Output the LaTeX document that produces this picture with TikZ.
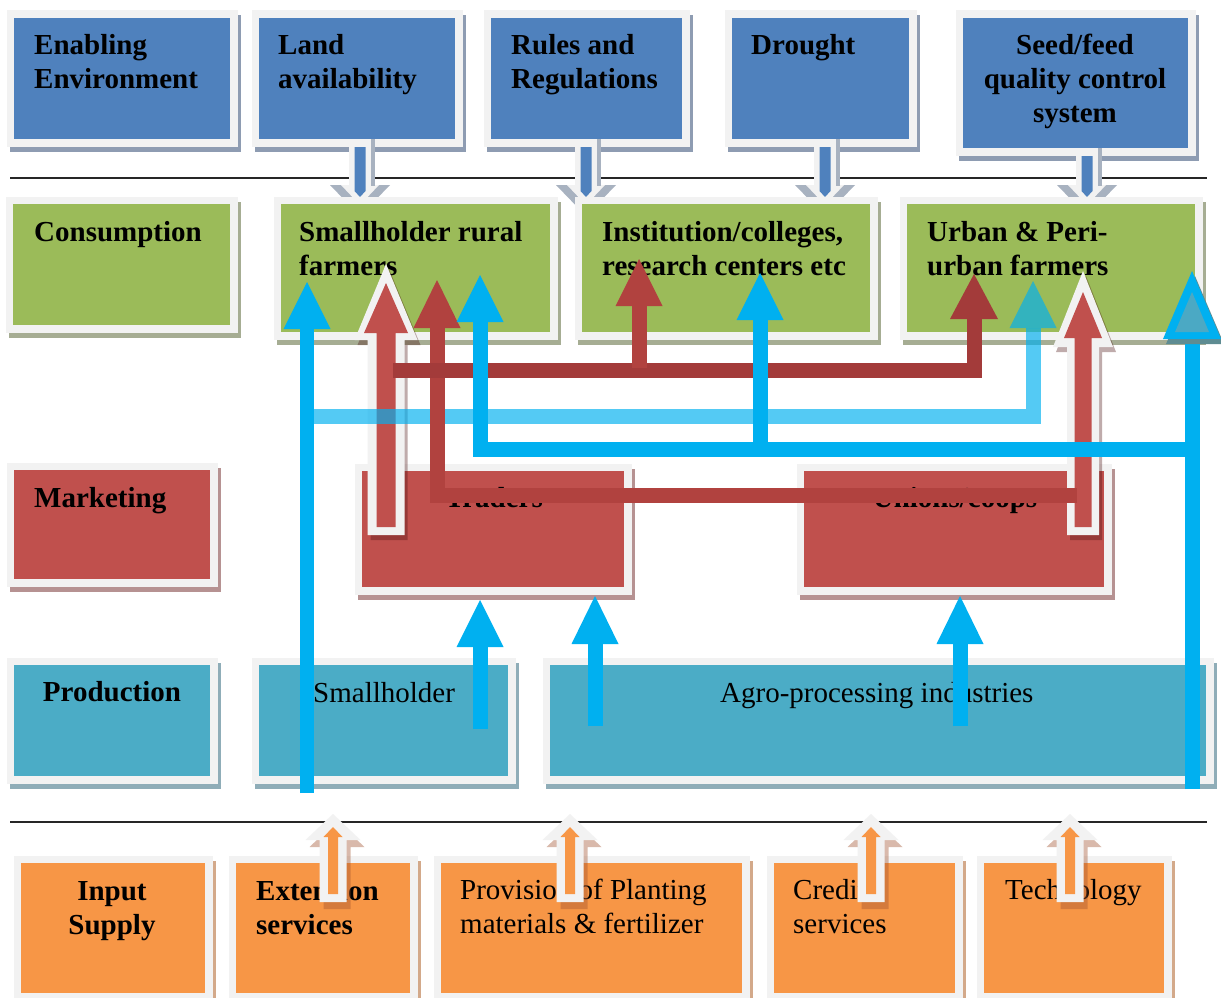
\documentclass[tikz,border=0pt]{standalone}
\usepackage{fontspec}
\setmainfont{Liberation Serif}
\definecolor{fr}{HTML}{F2F2F2}
\definecolor{bbox}{HTML}{4F81BD}
\definecolor{bsh}{HTML}{8E9CB2}
\definecolor{gbox}{HTML}{9BBB59}
\definecolor{gsh}{HTML}{A6AD93}
\definecolor{rbox}{HTML}{C0504D}
\definecolor{rsh}{HTML}{B69292}
\definecolor{tbox}{HTML}{4BACC6}
\definecolor{tsh}{HTML}{8FADB8}
\definecolor{obox}{HTML}{F79646}
\definecolor{osh}{HTML}{D3A98A}
\definecolor{cy}{HTML}{00B0F0}
\definecolor{dred}{HTML}{A33B3A}
\definecolor{mred}{HTML}{B1423F}
\definecolor{teal2}{HTML}{4BA9C4}
\definecolor{hsh}{HTML}{A8B2C0}
\definecolor{tealsh}{HTML}{5E8C92}
\definecolor{brsh}{HTML}{A0522D}
\definecolor{rdsh}{HTML}{4A1010}
% box with grey frame and offset shadow: name, x1, y1, x2, y2, fill, shadow
\newcommand{\cbox}[7]{%
  \fill[#7] ({#2-4.5},{#3-2.5}) rectangle ({#4+10.5},{#5+12.5});
  \node[draw=fr, line width=7.5pt, fill=#6, inner sep=0pt,
        minimum width={(#4-#2+7.5)*1pt}, minimum height={(#5-#3+7.5)*1pt}]
        (#1) at ({(#2+#4)/2},{(#3+#5)/2}) {};
}
% upward block arrow polygon: style, centre x, tip y, head-base y, head half width, shaft half width, bottom y
\newcommand{\blockup}[7]{%
  \fill[#1] ({#2-#6},#7) -- ({#2-#6},#4) -- ({#2-#5},#4) -- (#2,#3)
    -- ({#2+#5},#4) -- ({#2+#6},#4) -- ({#2+#6},#7) -- cycle;
}
% arrow head: style, x, tip y, base y, half width
\newcommand{\uphead}[5]{%
  \fill[#1] ({#2-#5},#4) -- (#2,#3) -- ({#2+#5},#4) -- cycle;
}
% grey framed downward arrow from the top row: x, top y
\newcommand{\downarr}[2]{%
  \fill[hsh] ({#1-30},185) -- ({#1+30},185) -- (#1,216) -- cycle;
  \fill[fr] ({#1-19},185) -- ({#1+19},185) -- (#1,205) -- cycle;
  \fill[hsh] ({#1+10},#2) rectangle ({#1+15},186);
  \fill[fr] ({#1-11},#2) rectangle ({#1+11},188);
  \fill[bbox] ({#1-5.5},{#2+8}) -- ({#1+5.5},{#2+8}) -- ({#1+5.5},191)
     -- (#1,197) -- ({#1-5.5},191) -- cycle;
}
% orange framed upward arrow: x
\newcommand{\orarr}[1]{%
  \blockup{brsh, opacity=0.4}{#1+4}{821}{847}{27.5}{13.5}{909}
  \blockup{fr}{#1}{814}{840}{27.5}{13.5}{902}
  \blockup{obox}{#1}{827}{837}{9.5}{5}{894}
}
\newcommand{\twol}[2]{\begin{tabular}[t]{@{}l@{}}#1\\#2\end{tabular}}
\newcommand{\twoc}[2]{\begin{tabular}[t]{@{}c@{}}#1\\#2\end{tabular}}
\begin{document}
\begin{tikzpicture}[x=1pt,y=-1pt,
  txt/.style={font=\fontsize{29}{34}\selectfont, inner sep=0pt, anchor=base west},
  bt/.style={txt, font=\fontsize{29}{34}\selectfont\bfseries},
  cyl/.style={draw=cy, line width=15pt},
  lbl/.style={draw=cy, line width=15pt, opacity=0.67},
  drl/.style={draw=dred, line width=15pt},
  mrl/.style={draw=mred, line width=15pt}]
\useasboundingbox (0,0) rectangle (1221,998);
\fill[white] (0,0) rectangle (1221,998);
% separators
\coordinate (s1a) at (10,178); \coordinate (s1b) at (1207,178);
\coordinate (s2a) at (10,822); \coordinate (s2b) at (1207,822);
\draw[line width=1.6pt, black!85] (s1a) -- (s1b);
\draw[line width=1.6pt, black!85] (s2a) -- (s2b);
% top row
\cbox{env}{14}{18}{230}{139}{bbox}{bsh}
\cbox{land}{259}{18}{455}{139}{bbox}{bsh}
\cbox{rules}{491}{18}{682}{139}{bbox}{bsh}
\cbox{drought}{732}{18}{909}{139}{bbox}{bsh}
\cbox{seed}{963}{18}{1188}{148}{bbox}{bsh}
\node[bt] (envT) at (34,55) {\twol{Enabling}{Environment}};
\node[bt] (landT) at (278,55) {\twol{Land}{availability}};
\node[bt] (rulesT) at (511,55) {\twol{Rules and}{Regulations}};
\node[bt] (droughtT) at (751,55) {Drought};
\node[bt, anchor=base] (seedT) at (1075,55) {\begin{tabular}[t]{@{}c@{}}Seed/feed\\quality control\\system\end{tabular}};
% down arrows
\downarr{360}{139}
\downarr{586}{139}
\downarr{825}{139}
\downarr{1087}{148}
% consumption row
\cbox{cons}{13}{204}{230}{325}{gbox}{gsh}
\cbox{smf}{281}{204}{550}{332}{gbox}{gsh}
\cbox{inst}{582}{204}{870}{332}{gbox}{gsh}
\cbox{urb}{907}{204}{1195}{332}{gbox}{gsh}
\node[bt] (consT) at (34,241) {Consumption};
\node[bt] (smfT) at (299,241) {\twol{Smallholder rural}{farmers}};
\node[bt] (instT) at (602,241) {\twol{Institution/colleges,}{research centers etc}};
\node[bt] (urbT) at (927,241) {\twol{Urban \& Peri-}{urban farmers}};
% marketing row
\cbox{mkt}{14}{470}{210}{579}{rbox}{rsh}
\cbox{trd}{362}{471}{624}{587}{rbox}{rsh}
\cbox{uni}{804}{471}{1104}{587}{rbox}{rsh}
\node[bt] (mktT) at (34,507) {Marketing};
\node[bt, anchor=base] (trdT) at (494,507) {Traders};
\node[bt, anchor=base] (uniT) at (955,507) {Unions/coops};
% production row
\cbox{prod}{14}{665}{210}{776}{tbox}{tsh}
\cbox{shp}{259}{665}{508}{776}{tbox}{tsh}
\cbox{agro}{550}{665}{1206}{776}{tbox}{tsh}
\node[bt, anchor=base] (prodT) at (112,701) {Production};
\node[txt] (shpT) at (313,702) {Smallholder};
\node[txt] (agroT) at (720,702) {Agro-processing industries};
% input row
\cbox{inp}{21}{863}{205}{993}{obox}{osh}
\cbox{ext}{236}{863}{410}{993}{obox}{osh}
\cbox{prv}{441}{863}{742}{993}{obox}{osh}
\cbox{crd}{774}{863}{955}{993}{obox}{osh}
\cbox{tec}{984}{863}{1164}{993}{obox}{osh}
\node[bt, anchor=base] (inpT) at (112,900) {\twoc{Input}{Supply}};
\node[bt] (extT) at (256,900) {\twol{Extension}{services}};
\node[txt] (prvT) at (460,899) {\twol{Provision of Planting}{materials \& fertilizer}};
\node[txt] (crdT) at (793,899) {\twol{Credit}{services}};
\node[txt] (tecT) at (1005,899) {Technology};
% orange arrows
\orarr{333}
\orarr{570}
\orarr{871}
\orarr{1070}
% grey framed red arrows (traders -> smallholder, unions -> urban)
\blockup{rdsh, opacity=0.35}{389}{269}{345}{31.5}{18.5}{540}
\blockup{fr}{386}{264}{340}{31.5}{18.5}{535}
\blockup{rbox}{386}{283}{333}{22}{9.5}{527}
\blockup{rdsh, opacity=0.35}{1086}{276}{352}{30}{16}{540}
\blockup{fr}{1083}{271}{347}{30}{16}{535}
\blockup{rbox}{1083}{292}{338}{19}{8.5}{527}
% light blue (semi-transparent) arrow
\coordinate (lb1) at (306,416); \coordinate (lb2) at (1033,416); \coordinate (lb3) at (1033,328);
\draw[lbl] (lb1) -- (lb2) -- (lb3);
\uphead{cy, opacity=0.67}{1033}{281}{328}{23.5}
% red arrow from unions to smallholder farmers
\coordinate (d1) at (1077,495); \coordinate (d2) at (437,495); \coordinate (d3) at (437,327.5);
\draw[mrl] (d1) -- (d2) -- (d3);
\uphead{mred}{437}{280}{328}{23.5}
% dark red arrow from traders to urban farmers, with branch to institutions
\coordinate (c1) at (393,370); \coordinate (c2) at (974,370); \coordinate (c3) at (974,318.5);
\draw[drl] (c1) -- (c2) -- (c3);
\uphead{dred}{974}{274}{319}{24}
\coordinate (cb1) at (639,368); \coordinate (cb2) at (639,305.5);
\draw[mrl] (cb1) -- (cb2);
\uphead{mred}{639}{259}{306}{23.5}
% long blue arrow from smallholder production to smallholder farmers
\coordinate (b1a) at (307,793); \coordinate (b1b) at (307,328.5);
\draw[cyl, line width=14pt] (b1a) -- (b1b);
\uphead{cy}{307}{282}{329}{23.5}
% blue arrows from agro-processing
\coordinate (r1) at (1192,789); \coordinate (r2) at (1192,338.5);
\draw[cyl] (r1) -- (r2);
\uphead{tealsh}{1195}{276}{344}{29}
\uphead{cy}{1192}{271}{339}{29}
\uphead{teal2}{1192}{292}{332}{17}
\coordinate (h1) at (1185,449); \coordinate (h2) at (480,449); \coordinate (h3) at (480,321.5);
\draw[cyl] (h1) -- (h2) -- (h3);
\uphead{cy}{480}{275}{322}{23.5}
\coordinate (v1) at (760,449); \coordinate (v2) at (760,319.5);
\draw[cyl] (v1) -- (v2);
\uphead{cy}{760}{273}{320}{23.5}
% production -> marketing
\coordinate (p1a) at (480,729); \coordinate (p1b) at (480,646.5);
\draw[cyl] (p1a) -- (p1b);
\uphead{cy}{480}{600}{647}{23.5}
\coordinate (p2a) at (595,726); \coordinate (p2b) at (595,643.5);
\draw[cyl] (p2a) -- (p2b);
\uphead{cy}{595}{596}{644}{23.5}
\coordinate (p3a) at (960,726); \coordinate (p3b) at (960,643.5);
\draw[cyl] (p3a) -- (p3b);
\uphead{cy}{960}{596}{644}{23.5}
\end{tikzpicture}
\end{document}
